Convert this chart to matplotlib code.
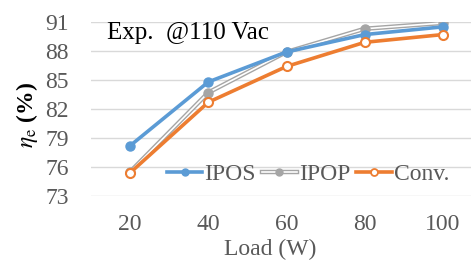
import matplotlib
matplotlib.use("Agg")
import matplotlib.pyplot as plt
from matplotlib.lines import Line2D
from matplotlib.legend_handler import HandlerTuple

loads = ["20", "40", "60", "80", "100"]
ipos = [78.2, 84.8, 87.9, 89.7, 90.5]
ipop = [75.5, 83.7, 87.9, 90.3, 90.9]
conv = [75.4, 82.7, 86.4, 88.9, 89.7]
yticks = [73, 76, 79, 82, 85, 88, 91]

plt.rcParams['font.family'] = ['Liberation Serif']
plt.rcParams['mathtext.fontset'] = 'stix'

blue = "#5B9BD5"
orange = "#ED7D31"
gray = "#A5A5A5"
tick_col = "#595959"
fs = 17

fig = plt.figure(figsize=(4.71, 2.61), dpi=100)
W, H = 471, 261
# plot area in pixels: x 91..482 (cropped at right), y 22..196
ax = fig.add_axes([91 / W, 1 - 196 / H, (482 - 91) / W, (196 - 22) / H])

x = list(range(len(loads)))
ax.plot(x, ipos, color=blue, lw=2.6, marker='o', ms=6.5, mfc=blue, mec=blue, zorder=3)
# compound (double) gray line
ax.plot(x, ipop, color=gray, lw=3.2, zorder=2)
ax.plot(x, ipop, color="white", lw=1.2, zorder=2)
ax.plot(x, ipop, ls='none', marker='o', ms=6.5, mfc=gray, mec=gray, zorder=2)
ax.plot(x, conv, color=orange, lw=2.6, marker='o', ms=6.5, mfc="white", mec=orange,
        mew=1.5, zorder=4)

h_ipos = Line2D([], [], color=blue, lw=2.6, marker='o', ms=5, mfc=blue, mec=blue)
h_ipop_a = Line2D([], [], color=gray, lw=3.2)
h_ipop_b = Line2D([], [], color="white", lw=1.2, marker='o', ms=5, mfc=gray, mec=gray)
h_conv = Line2D([], [], color=orange, lw=2.6, marker='o', ms=5, mfc="white", mec=orange, mew=1.3)

ax.legend([h_ipos, (h_ipop_a, h_ipop_b), h_conv], ["IPOS", "IPOP", "Conv."],
          handler_map={tuple: HandlerTuple(ndivide=1, pad=0)},
          ncol=3, frameon=False, fontsize=fs, handlelength=1.5, handletextpad=0.08,
          columnspacing=0.25, labelcolor=tick_col, borderpad=0, borderaxespad=0,
          loc='center', bbox_to_anchor=((308 - 91) / (482 - 91), (196 - 174) / (196 - 22)))

ax.set_xlim(-0.5, 4.5)
ax.set_ylim(73, 91)
ax.set_yticks(yticks)
ax.set_xticks(x)
ax.set_xticklabels(loads)
ax.tick_params(axis='both', length=0, labelsize=fs, colors=tick_col)
ax.tick_params(axis='y', pad=16)
ax.tick_params(axis='x', pad=13)
ax.grid(axis='y', color="#D9D9D9", lw=1)
ax.set_axisbelow(True)
for s in ax.spines.values():
    s.set_visible(False)

fig.text(107 / W, 1 - 33 / H, "Exp.  @110 Vac", fontsize=18, va='center', ha='left')
fig.text(270 / W, 1 - 249 / H, "Load (W)", fontsize=fs, color=tick_col, ha='center', va='center')
fig.text(27 / W, 1 - 115 / H, r"$\eta_\mathrm{e}$ (%)", fontsize=fs, rotation=90,
         ha='center', va='center', fontweight='bold')

fig.savefig("out.png", dpi=100)
